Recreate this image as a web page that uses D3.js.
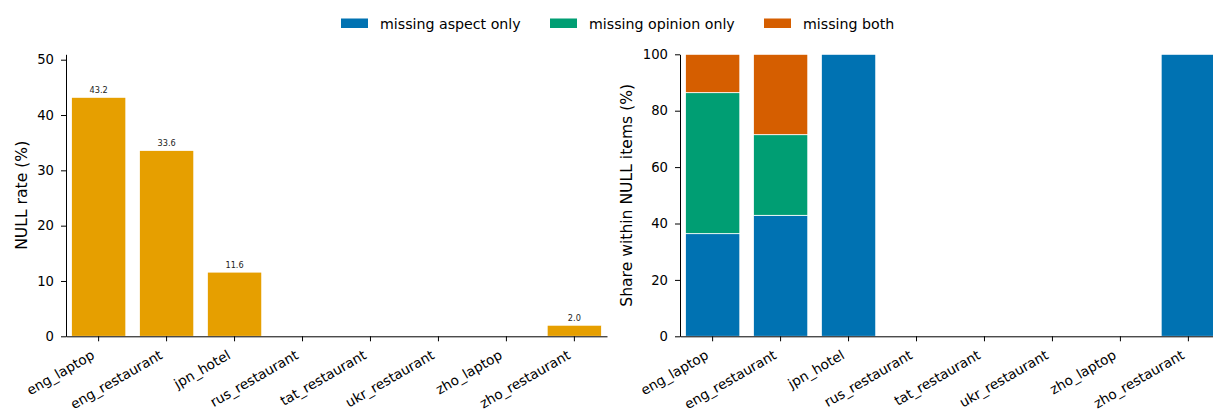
<!DOCTYPE html>
<html>
<head>
<meta charset="utf-8">
<script src="https://cdn.jsdelivr.net/npm/d3@7"></script>
<style>
    body { margin: 0; background: #fff; }
    svg { display: block; font-family: "DejaVu Sans", sans-serif; }
    svg text { font-family: "DejaVu Sans", sans-serif; }
    .axis path, .axis line { stroke: #000; stroke-width: 1; }
</style>
</head>
<body>
<div id="chart"></div>
<script>
// categories (dataset_language)
const categories = ['eng_laptop', 'eng_restaurant', 'jpn_hotel', 'rus_restaurant',
    'tat_restaurant', 'ukr_restaurant', 'zho_laptop', 'zho_restaurant'];

// left panel: NULL rate (%)
const nullRate = [43.2, 33.6, 11.6, 0, 0, 0, 0, 2.0];

// right panel: share within NULL items (%)
const aspectOnly  = [36.4, 42.9, 100, 0, 0, 0, 0, 100];
const opinionOnly = [50.0, 28.6, 0, 0, 0, 0, 0, 0];
const bothMissing = [13.6, 28.5, 0, 0, 0, 0, 0, 0];

const seriesNames = ['missing aspect only', 'missing opinion only', 'missing both'];
const seriesColors = ['#0072B2', '#009E73', '#D55E00'];

const leftTicks = [0, 10, 20, 30, 40, 50];
const rightTicks = [0, 20, 40, 60, 80, 100];

const width = 1213, height = 420;
const baseY = 336.3, topY = 54.3;

const svg = d3.select('#chart').append('svg')
    .attr('width', width)
    .attr('height', height);

// Shared axes drawing
function drawAxes(g, xScale, yScale, ticks, label, labelX) {
    const xAxis = d3.axisBottom(xScale).tickSize(5).tickSizeOuter(0).tickFormat('');
    g.append('g')
        .attr('class', 'axis x-axis')
        .attr('transform', `translate(0,${baseY})`)
        .call(xAxis);

    // rotated tick labels, ending just left of the tick
    g.append('g').selectAll('text')
        .data(categories)
        .join('text')
        .attr('transform', d => `translate(${xScale(d) + xScale.bandwidth() / 2 - 8},${baseY + 13}) rotate(-30)`)
        .attr('text-anchor', 'end')
        .attr('dy', '0.72em')
        .style('font-size', '13.6px')
        .text(d => d);

    const yAxis = d3.axisLeft(yScale).tickValues(ticks).tickSize(5).tickSizeOuter(0).tickPadding(7);
    const yg = g.append('g')
        .attr('class', 'axis y-axis')
        .attr('transform', `translate(${xScale.range()[0]},0)`)
        .call(yAxis);
    yg.attr('font-size', null).attr('font-family', null);
    yg.selectAll('text')
        .style('font-size', '13.2px')
        .style('fill', '#000');

    g.append('text')
        .attr('transform', `translate(${labelX},${(baseY + topY) / 2}) rotate(-90)`)
        .attr('text-anchor', 'middle')
        .attr('dy', '0.36em')
        .style('font-size', '15.6px')
        .text(label);
}

// ---- Left panel
const xLeft = d3.scaleBand()
    .domain(categories)
    .range([66, 607])
    .paddingInner(0.2)
    .paddingOuter(0.08);

const yLeft = d3.scaleLinear()
    .domain([0, 43.2 * 1.18])
    .range([baseY, topY]);

const left = svg.append('g');

left.selectAll('rect')
    .data(categories.map((c, i) => ({cat: c, v: nullRate[i]})))
    .join('rect')
    .attr('x', d => xLeft(d.cat))
    .attr('y', d => yLeft(d.v))
    .attr('width', xLeft.bandwidth())
    .attr('height', d => baseY - yLeft(d.v))
    .attr('fill', '#E69F00')
    .attr('stroke', '#fff')
    .attr('stroke-width', 0.8);

left.selectAll('.val')
    .data(categories.map((c, i) => ({cat: c, v: nullRate[i]})).filter(d => d.v > 0))
    .join('text')
    .attr('class', 'val')
    .attr('x', d => xLeft(d.cat) + xLeft.bandwidth() / 2)
    .attr('y', d => yLeft(d.v) - 4.5)
    .attr('text-anchor', 'middle')
    .style('font-size', '8.2px')
    .style('fill', '#222')
    .text(d => d.v.toFixed(1));

drawAxes(left, xLeft, yLeft, leftTicks, 'NULL rate (%)', 21);

// ---- Right panel
const xRight = d3.scaleBand()
    .domain(categories)
    .range([680, 1221])
    .paddingInner(0.2)
    .paddingOuter(0.08);

const yRight = d3.scaleLinear()
    .domain([0, 100])
    .range([baseY, topY]);

const table = categories.map((c, i) => ({
    cat: c, aspect: aspectOnly[i], opinion: opinionOnly[i], both: bothMissing[i]
}));
const stacked = d3.stack().keys(['aspect', 'opinion', 'both'])(table);

const right = svg.append('g');

right.selectAll('.layer')
    .data(stacked)
    .join('g')
    .attr('class', 'layer')
    .attr('fill', (d, i) => seriesColors[i])
    .selectAll('rect')
    .data(d => d.filter(s => s[1] - s[0] > 0))
    .join('rect')
    .attr('x', d => xRight(d.data.cat))
    .attr('y', d => yRight(d[1]))
    .attr('width', xRight.bandwidth())
    .attr('height', d => yRight(d[0]) - yRight(d[1]))
    .attr('stroke', '#fff')
    .attr('stroke-width', 0.8);

drawAxes(right, xRight, yRight, rightTicks, 'Share within NULL items (%)', 626.7);

// ---- Legend
const legendX = [341, 550, 764];
const legend = svg.append('g');
seriesNames.forEach((name, i) => {
    legend.append('rect')
        .attr('x', legendX[i])
        .attr('y', 18.5)
        .attr('width', 27)
        .attr('height', 9.5)
        .attr('fill', seriesColors[i]);
    legend.append('text')
        .attr('x', legendX[i] + 39)
        .attr('y', 28.5)
        .style('font-size', '14.2px')
        .text(name);
});
</script>
</body>
</html>
